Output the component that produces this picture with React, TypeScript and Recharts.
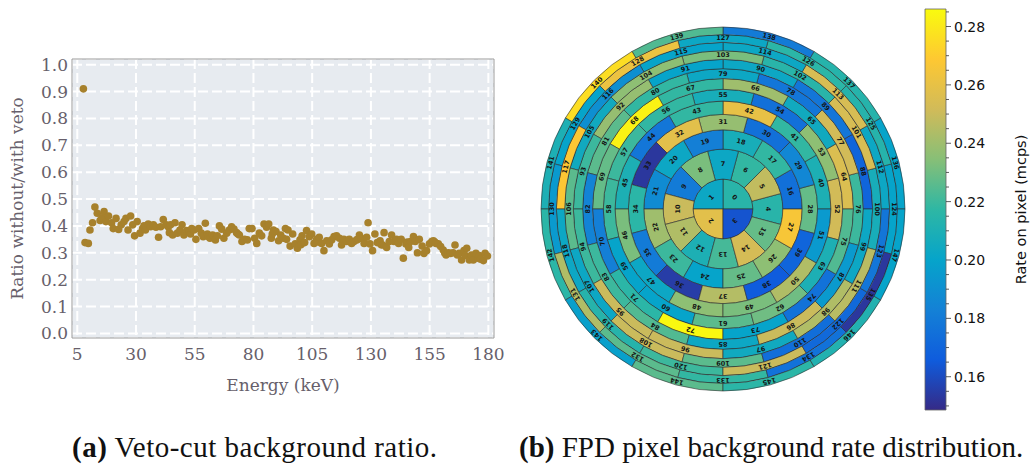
import React from "react";
import {
  ScatterChart,
  Scatter,
  XAxis,
  YAxis,
  CartesianGrid,
  ReferenceArea,
  Label,
  PieChart,
  Pie,
  Cell,
  ComposedChart,
} from "recharts";

// (a) veto-cut ratio per energy bin
const energies = [
  7.6, 8.3, 9.7, 10.4, 11.5, 12.5, 13.5, 14.7, 15.5, 16.4,
  17.2, 18.3, 19.6, 20.3, 21.5, 22.6, 23.7, 24.9, 25.7, 26.6,
  27.7, 28.6, 29.4, 30.5, 31.7, 32.8, 33.4, 34.0, 35.2, 36.2,
  37.4, 38.5, 39.6, 40.5, 41.6, 42.8, 43.7, 44.2, 44.7, 45.6,
  46.6, 47.6, 48.7, 49.6, 50.4, 51.6, 52.7, 53.2, 53.7, 54.7,
  55.5, 56.7, 57.8, 58.6, 59.5, 60.4, 60.9, 61.5, 62.6, 63.8,
  64.6, 65.5, 66.5, 67.4, 68.6, 69.7, 70.7, 71.7, 72.8, 73.4,
  74.0, 75.1, 76.2, 77.4, 78.2, 79.4, 80.5, 81.4, 82.5, 83.5,
  84.5, 85.6, 86.5, 87.6, 88.0, 88.5, 89.6, 90.7, 91.6, 92.7,
  93.6, 94.1, 94.7, 95.6, 96.7, 97.8, 98.7, 99.8, 100.2, 100.7,
  101.8, 102.6, 103.8, 104.8, 105.8, 106.9, 107.5, 108.0, 109.0, 110.0,
  111.2, 112.3, 113.3, 114.3, 115.4, 116.6, 117.5, 118.0, 118.5, 119.7,
  120.8, 121.8, 122.8, 123.9, 124.5, 125.1, 125.9, 127.1, 128.2, 128.8,
  129.6, 130.7, 131.7, 132.7, 133.9, 134.4, 135.0, 135.6, 136.7, 137.8,
  138.8, 139.8, 140.9, 141.8, 142.9, 143.8, 144.9, 145.5, 146.1, 146.9,
  148.1, 148.9, 149.8, 150.6, 151.8, 152.6, 153.7, 154.9, 155.9, 156.6,
  157.2, 157.7, 158.7, 159.7, 160.8, 161.4, 162.0, 162.9, 163.9, 165.0,
  165.8, 166.8, 167.6, 168.6, 169.6, 170.2, 170.8, 171.9, 172.8, 173.6,
  174.7, 175.7, 176.2, 176.7, 177.9, 178.6, 179.6,
];
const ratios = [
  0.91, 0.338, 0.335, 0.385, 0.412, 0.47, 0.447, 0.42, 0.43, 0.453,
  0.416, 0.437, 0.412, 0.39, 0.428, 0.387, 0.404, 0.416, 0.428, 0.385,
  0.437, 0.404, 0.363, 0.416, 0.373, 0.39, 0.4, 0.385, 0.407, 0.397,
  0.404, 0.395, 0.358, 0.397, 0.424, 0.404, 0.397, 0.375, 0.404, 0.366,
  0.412, 0.373, 0.385, 0.404, 0.366, 0.383, 0.379, 0.37, 0.39, 0.385,
  0.35, 0.39, 0.373, 0.36, 0.41, 0.37, 0.36, 0.354, 0.366, 0.348,
  0.363, 0.4, 0.388, 0.354, 0.373, 0.385, 0.397, 0.388, 0.375, 0.37,
  0.366, 0.342, 0.35, 0.348, 0.39, 0.39, 0.354, 0.335, 0.373, 0.363,
  0.407, 0.395, 0.407, 0.354, 0.37, 0.385, 0.379, 0.345, 0.366, 0.354,
  0.39, 0.35, 0.385, 0.325, 0.37, 0.333, 0.317, 0.348, 0.33, 0.363,
  0.338, 0.383, 0.36, 0.37, 0.335, 0.35, 0.34, 0.358, 0.335, 0.308,
  0.345, 0.333, 0.348, 0.36, 0.363, 0.354, 0.329, 0.34, 0.35, 0.342,
  0.35, 0.335, 0.342, 0.348, 0.35, 0.366, 0.354, 0.335, 0.358, 0.412,
  0.333, 0.308, 0.37, 0.338, 0.345, 0.33, 0.329, 0.375, 0.32, 0.342,
  0.366, 0.342, 0.35, 0.335, 0.35, 0.28, 0.333, 0.34, 0.32, 0.342,
  0.36, 0.342, 0.3, 0.35, 0.325, 0.298, 0.308, 0.333, 0.342, 0.345,
  0.34, 0.335, 0.333, 0.323, 0.31, 0.3, 0.292, 0.3, 0.298, 0.3,
  0.329, 0.292, 0.298, 0.273, 0.308, 0.29, 0.317, 0.273, 0.292, 0.273,
  0.298, 0.28, 0.29, 0.276, 0.271, 0.298, 0.288,
];
const energyTicks = [5, 30, 55, 80, 105, 130, 155, 180];
const ratioTicks = [0, 0.1, 0.2, 0.3, 0.4, 0.5, 0.6, 0.7, 0.8, 0.9, 1.0];

// (b) background rate per FPD pixel (mcps), pixel 0..147
const pixelRates = [
  0.215, 0.203, 0.258, 0.163,
  0.215, 0.248, 0.218, 0.203, 0.232, 0.18, 0.25, 0.244, 0.21, 0.222, 0.253, 0.228,
  0.175, 0.218, 0.208, 0.182, 0.203, 0.188, 0.24, 0.22, 0.2, 0.228, 0.236, 0.266,
  0.228, 0.186, 0.175, 0.238, 0.258, 0.153, 0.216, 0.18, 0.155, 0.245, 0.166, 0.17,
  0.21, 0.218, 0.26, 0.218, 0.178, 0.21, 0.232, 0.203, 0.236, 0.232, 0.244, 0.195,
  0.252, 0.236, 0.175, 0.208, 0.218, 0.22, 0.22, 0.2, 0.2, 0.226, 0.23, 0.21,
  0.255, 0.205, 0.24, 0.218, 0.283, 0.228, 0.182, 0.216, 0.285, 0.2, 0.176, 0.224,
  0.22, 0.252, 0.178, 0.203, 0.218, 0.226, 0.184, 0.22, 0.224, 0.203, 0.25, 0.195,
  0.17, 0.178, 0.203, 0.2, 0.238, 0.22, 0.22, 0.25, 0.25, 0.205, 0.244, 0.203,
  0.208, 0.254, 0.215, 0.232, 0.236, 0.205, 0.226, 0.203, 0.25, 0.226, 0.174, 0.246,
  0.203, 0.254, 0.203, 0.2, 0.19, 0.268, 0.203, 0.214, 0.22, 0.25, 0.172, 0.178,
  0.2, 0.214, 0.216, 0.203, 0.262, 0.2, 0.195, 0.244, 0.226, 0.218, 0.176, 0.153,
  0.2, 0.214, 0.18, 0.224, 0.276, 0.21, 0.216, 0.198, 0.226, 0.216, 0.212, 0.2,
];
const colorbarTicks = [0.16, 0.18, 0.2, 0.22, 0.24, 0.26, 0.28];
const colorbarMinorTicks = [
  0.15, 0.155, 0.165, 0.17, 0.175, 0.185, 0.19, 0.195, 0.205, 0.21,
  0.215, 0.225, 0.23, 0.235, 0.245, 0.25, 0.255, 0.265, 0.27, 0.275, 0.285,
];

const X_DOMAIN = [2.75, 182.4];
const Y_DOMAIN = [-0.017, 1.021];
const RATE_MIN = 0.1486;
const RATE_MAX = 0.286;

const GREY_TEXT = "#675f6b";
const SERIF = "DejaVu Serif";

const parula = [
  "#352a87", "#0f5cdd", "#1481d6", "#06a4ca", "#2eb7a4",
  "#87bf77", "#d1bb59", "#fec832", "#f9fb0e",
];

const hexToRgb = (h: string) => [
  parseInt(h.slice(1, 3), 16),
  parseInt(h.slice(3, 5), 16),
  parseInt(h.slice(5, 7), 16),
];

function rateColor(v: number) {
  const t = Math.min(1, Math.max(0, (v - RATE_MIN) / (RATE_MAX - RATE_MIN)));
  const s = t * (parula.length - 1);
  const i = Math.min(parula.length - 2, Math.floor(s));
  const f = s - i;
  const a = hexToRgb(parula[i]);
  const b = hexToRgb(parula[i + 1]);
  const c = a.map((ch, k) => Math.round(ch + (b[k] - ch) * f));
  return `rgb(${c[0]},${c[1]},${c[2]})`;
}

// detector layout: 4-pixel bullseye + 12 rings of 12 equal-area pixels
const FPD_R = 182;
const rings: any[] = [];
let firstPixel = 0;
for (let k = 0; k <= 12; k++) {
  const n = k === 0 ? 4 : 12;
  rings.push({
    key: k,
    inner: k === 0 ? 0 : (FPD_R * Math.sqrt(4 + 12 * (k - 1))) / Math.sqrt(148),
    outer: (FPD_R * Math.sqrt(4 + 12 * k)) / Math.sqrt(148),
    start: k % 2 === 1 ? -15 : 0,
    data: pixelRates
      .slice(firstPixel, firstPixel + n)
      .map((rate, j) => ({ pixel: firstPixel + j, rate, slot: 1 })),
  });
  firstPixel += n;
}

const scatterData = energies.map((e, i) => ({ energy: e, ratio: ratios[i] }));

const renderDot = (p: any) => (
  <circle cx={p.cx} cy={p.cy} r={3.8} fill="#a7812c" />
);

const renderPixelLabel = (props: any) => {
  const { cx, cy, midAngle, innerRadius, outerRadius } = props;
  const r = innerRadius === 0 ? outerRadius * 0.55 : (innerRadius + outerRadius) / 2;
  const rad = (-midAngle * Math.PI) / 180;
  const x = cx + r * Math.cos(rad);
  const y = cy + r * Math.sin(rad);
  const pixel = props.payload?.pixel ?? props.pixel;
  return (
    <text
      x={x}
      y={y}
      transform={`rotate(${90 - midAngle} ${x} ${y})`}
      textAnchor="middle"
      dominantBaseline="central"
      fontSize={6.5}
      fontWeight="bold"
      fontFamily="DejaVu Sans"
      fill="#151515"
    >
      {pixel}
    </text>
  );
};

const ColorbarTick = (props: any) => {
  const { x, y, payload } = props;
  const v = payload.value;
  const major = colorbarTicks.some((t) => Math.abs(t - v) < 1e-6);
  return (
    <g>
      <line x1={x} x2={x + (major ? 5 : 3)} y1={y} y2={y} stroke="#333" strokeWidth={0.8} />
      {major && (
        <text x={x + 8} y={y} dy="0.36em" fontSize={14} fontFamily="DejaVu Sans" fill="#111">
          {v.toFixed(2)}
        </text>
      )}
    </g>
  );
};

const captionStyle: React.CSSProperties = {
  position: "absolute",
  top: 433,
  fontFamily: "Liberation Serif",
  fontSize: 29,
  lineHeight: "29px",
  color: "#111",
  whiteSpace: "nowrap",
};

export default function App() {
  return (
    <div
      style={{
        position: "fixed",
        left: 0,
        top: 0,
        width: 1030,
        height: 465,
        background: "#fff",
        overflow: "hidden",
      }}
    >
      <div style={{ position: "absolute", left: 0, top: 0 }}>
        <ScatterChart width={520} height={400} margin={{ top: 59, right: 26, bottom: 0, left: 0 }}>
          <CartesianGrid
            stroke="#ffffff"
            strokeWidth={2}
            strokeDasharray="10 4"
            fill="#e7ebf0"
            fillOpacity={1}
          />
          <XAxis
            type="number"
            dataKey="energy"
            domain={X_DOMAIN}
            ticks={energyTicks}
            interval={0}
            allowDataOverflow
            height={62}
            axisLine={false}
            tickLine={false}
            tickSize={4}
            tickMargin={6}
            tick={{ fontSize: 17, fontFamily: SERIF, fill: GREY_TEXT }}
          >
            <Label
              value="Energy (keV)"
              position="insideBottom"
              offset={9}
              fontSize={17}
              fontFamily={SERIF}
              fill={GREY_TEXT}
            />
          </XAxis>
          <YAxis
            type="number"
            dataKey="ratio"
            domain={Y_DOMAIN}
            ticks={ratioTicks}
            interval={0}
            allowDataOverflow
            width={72}
            axisLine={false}
            tickLine={false}
            tickSize={2}
            tickMargin={2}
            tickFormatter={(v: number) => v.toFixed(1)}
            tick={{ fontSize: 17, fontFamily: SERIF, fill: GREY_TEXT }}
          >
            <Label
              value="Ratio without/with veto"
              angle={-90}
              position="insideLeft"
              offset={17}
              style={{ textAnchor: "middle" }}
              fontSize={17}
              fontFamily={SERIF}
              fill={GREY_TEXT}
            />
          </YAxis>
          <Scatter data={scatterData} fill="#a7812c" shape={renderDot} isAnimationActive={false} />
          <ReferenceArea
            x1={X_DOMAIN[0]}
            x2={X_DOMAIN[1]}
            y1={Y_DOMAIN[0]}
            y2={Y_DOMAIN[1]}
            fill="none"
            stroke="#9b9b9b"
            strokeWidth={1}
            ifOverflow="visible"
          />
        </ScatterChart>
      </div>

      <div style={{ position: "absolute", left: 523, top: 9 }}>
        <PieChart width={400} height={400} margin={{ top: 0, right: 0, bottom: 0, left: 0 }}>
          {rings.map((ring) => (
            <Pie
              key={ring.key}
              data={ring.data}
              dataKey="slot"
              cx={200}
              cy={200}
              innerRadius={ring.inner}
              outerRadius={ring.outer}
              startAngle={ring.start}
              endAngle={ring.start + 360}
              stroke="#2b2b2b"
              strokeWidth={0.6}
              label={renderPixelLabel}
              labelLine={false}
              isAnimationActive={false}
            >
              {ring.data.map((d: any) => (
                <Cell key={d.pixel} fill={rateColor(d.rate)} stroke="#2b2b2b" strokeWidth={0.6} />
              ))}
            </Pie>
          ))}
        </PieChart>
      </div>

      <div style={{ position: "absolute", left: 900, top: 0 }}>
        <ComposedChart
          width={130}
          height={465}
          data={[{ x: 0 }, { x: 1 }]}
          margin={{ top: 9, right: 0, bottom: 55, left: 25 }}
        >
          <defs>
            <linearGradient id="parulaBar" x1="0" y1="1" x2="0" y2="0">
              {parula.map((c, i) => (
                <stop key={c} offset={i / (parula.length - 1)} stopColor={c} />
              ))}
            </linearGradient>
          </defs>
          <XAxis type="number" dataKey="x" domain={[0, 1]} hide />
          <YAxis
            type="number"
            orientation="right"
            domain={[RATE_MIN, RATE_MAX]}
            ticks={[...colorbarMinorTicks, ...colorbarTicks].sort((a, b) => a - b)}
            interval={0}
            allowDataOverflow
            width={84}
            axisLine={false}
            tickLine={false}
            tickSize={0}
            tickMargin={0}
            tick={<ColorbarTick />}
          >
            <Label
              value="Rate on pixel (mcps)"
              angle={-90}
              position="insideRight"
              offset={9}
              style={{ textAnchor: "middle" }}
              fontSize={14.5}
              fontFamily="DejaVu Sans"
              fill="#111"
            />
          </YAxis>
          <ReferenceArea
            y1={RATE_MIN}
            y2={RATE_MAX}
            fill="url(#parulaBar)"
            fillOpacity={1}
            stroke="#666"
            strokeWidth={0.8}
            ifOverflow="visible"
          />
        </ComposedChart>
      </div>

      <div style={{ ...captionStyle, left: 72, letterSpacing: 0.5 }}>
        <b>(a)</b> Veto-cut background ratio.
      </div>
      <div style={{ ...captionStyle, left: 519 }}>
        <b>(b)</b> FPD pixel background rate distribution.
      </div>
    </div>
  );
}
